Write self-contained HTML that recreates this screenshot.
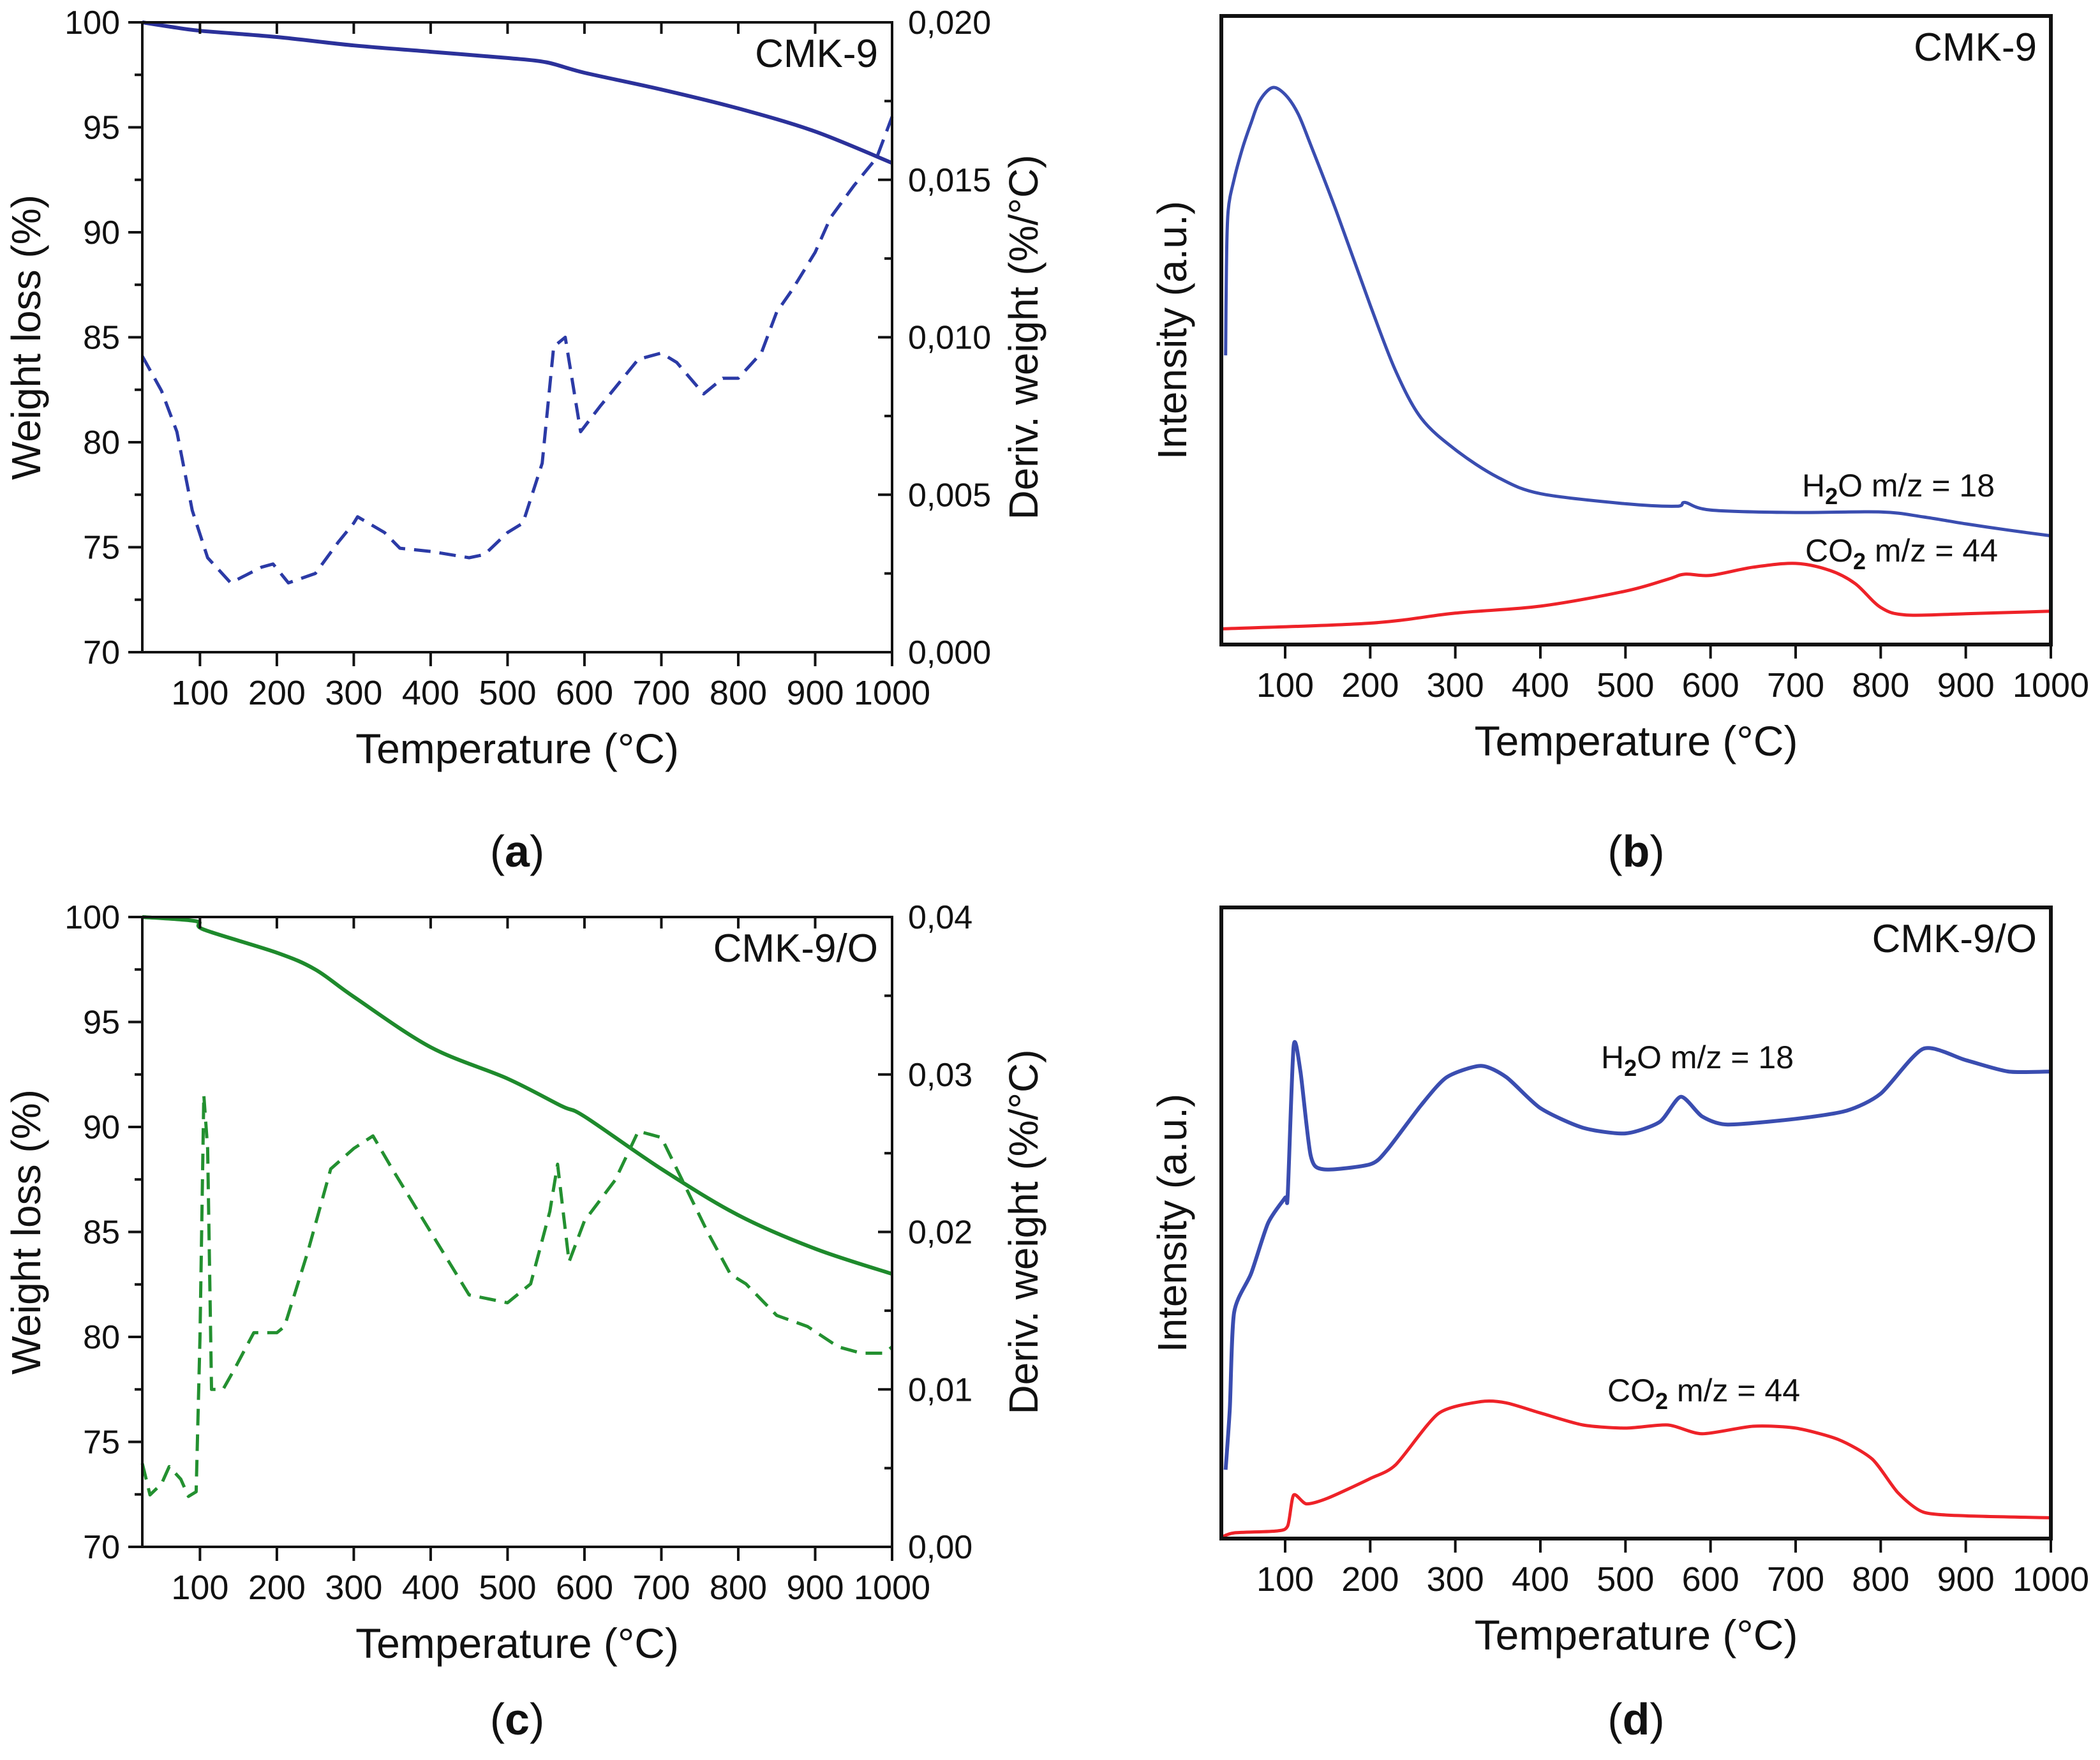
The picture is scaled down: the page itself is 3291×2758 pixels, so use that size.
<!DOCTYPE html>
<html><head><meta charset="utf-8">
<style>
html,body{margin:0;padding:0;background:#fff;}
svg{display:block;}
text{font-family:"Liberation Sans",sans-serif;fill:#111;}
</style></head>
<body>
<svg id="fig" width="3291" height="2758" viewBox="0 0 3291 2758" xmlns="http://www.w3.org/2000/svg"></svg>
<script>
// ---- Panel (a) CMK-9 TGA ----
const aWeightT = [25,60,100,200,300,400,500,550,600,700,800,900,1000];
const aWeight  = [100,99.8,99.6,99.3,98.9,98.6,98.3,98.1,97.6,96.8,95.9,94.8,93.3];
const aDerivT  = [25,50,70,90,110,140,180,195,215,250,280,300,305,340,360,400,450,470,500,520,545,560,575,595,620,670,700,720,755,780,800,830,850,870,900,920,950,980,1000];
const aDeriv   = [0.0094,0.0083,0.007,0.0045,0.003,0.0022,0.0027,0.0028,0.0022,0.0025,0.0035,0.0041,0.0043,0.0038,0.0033,0.0032,0.0030,0.0031,0.0038,0.0041,0.006,0.0097,0.0100,0.0070,0.0078,0.0093,0.0095,0.0092,0.0082,0.0087,0.0087,0.0095,0.0108,0.0115,0.0127,0.0138,0.0148,0.0157,0.0170];
const aLeftTicks  = ["70","75","80","85","90","95","100"];
const aRightTicks = ["0,000","0,005","0,010","0,015","0,020"];
// ---- Panel (c) CMK-9/O TGA ----
const cWeightT = [25,95,105,200,250,300,400,500,570,600,700,800,900,1000];
const cWeight  = [100,99.8,99.4,98.3,97.5,96.2,93.8,92.3,91.0,90.5,88.0,85.8,84.2,83.0];
const cDerivT  = [25,35,50,60,75,85,95,100,105,110,115,130,145,170,200,210,240,270,300,325,350,400,450,500,530,555,565,580,600,640,670,700,720,760,790,810,850,890,930,960,990,1000];
const cDeriv   = [0.0053,0.0033,0.004,0.0051,0.0043,0.0032,0.0035,0.0133,0.0287,0.0253,0.01,0.01,0.0113,0.0136,0.0136,0.014,0.0187,0.024,0.0253,0.0261,0.024,0.02,0.016,0.0155,0.0167,0.0213,0.0243,0.0181,0.0207,0.0233,0.0264,0.026,0.024,0.02,0.0173,0.0167,0.0147,0.014,0.0127,0.0123,0.0123,0.0127];
const cLeftTicks  = ["70","75","80","85","90","95","100"];
const cRightTicks = ["0,00","0,01","0,02","0,03","0,04"];
// ---- Panel (b) CMK-9 MS ----
const bH2OT = [30,31,33,40,50,60,70,85,100,115,130,160,200,230,260,300,350,400,500,560,570,600,700,800,850,900,950,1000];
const bH2O  = [46,60,69,74,79,83,86.5,88.6,87.5,84.5,79.5,69,54,43.5,36,31,26.6,24,22.4,22,22.6,21.4,21,21.1,20.3,19.2,18.2,17.3];
const bCO2T = [25,200,300,400,500,550,570,600,650,700,740,770,800,830,900,1000];
const bCO2  = [2.5,3.4,5,6.1,8.5,10.4,11.2,11,12.3,12.9,11.8,9.7,5.9,4.7,4.9,5.3];
// ---- Panel (d) CMK-9/O MS ----
const dH2OT = [30,35,40,60,80,100,103,110,118,130,145,200,220,260,290,330,360,400,450,500,540,565,590,620,700,760,800,850,900,950,1000];
const dH2O  = [10.9,20.6,35.8,42,50,54,54.4,78,74,60.7,58.5,59.3,61.6,68.7,73.1,74.9,73.1,68.2,65.1,64.2,66,70,66.9,65.6,66.5,67.8,70.5,77.6,75.8,74,74];
const dCO2T = [25,40,90,103,110,125,150,200,230,280,330,360,400,450,500,550,590,650,700,750,790,820,850,900,1000];
const dCO2  = [0.2,0.9,1.2,2,6.9,5.5,6.4,9.5,11.7,19.8,21.7,21.5,19.9,18,17.5,18,16.6,17.8,17.5,15.7,12.6,7.3,4.2,3.6,3.3];
const xTicks = ["100","200","300","400","500","600","700","800","900","1000"];

const NS="http://www.w3.org/2000/svg";
const svg=document.getElementById('fig');
function mk(tag,attrs,parent,txt){const e=document.createElementNS(NS,tag);for(const k in attrs)e.setAttribute(k,attrs[k]);if(txt!==undefined)e.textContent=txt;(parent||svg).appendChild(e);return e;}
function pathD(pts,smooth){
  if(!smooth){return pts.map((p,i)=>(i?'L':'M')+p[0].toFixed(1)+' '+p[1].toFixed(1)).join('');}
  let d='M'+pts[0][0].toFixed(1)+' '+pts[0][1].toFixed(1);
  for(let i=0;i<pts.length-1;i++){
    const p0=pts[Math.max(0,i-1)],p1=pts[i],p2=pts[i+1],p3=pts[Math.min(pts.length-1,i+2)];
    const k=smooth;
    const c1=[p1[0]+(p2[0]-p0[0])*k,p1[1]+(p2[1]-p0[1])*k];
    const c2=[p2[0]-(p3[0]-p1[0])*k,p2[1]-(p3[1]-p1[1])*k];
    d+='C'+c1[0].toFixed(1)+' '+c1[1].toFixed(1)+' '+c2[0].toFixed(1)+' '+c2[1].toFixed(1)+' '+p2[0].toFixed(1)+' '+p2[1].toFixed(1);
  }
  return d;
}

function panel(P){
  const g=mk('g',{});
  
  
  const sx=t=>P.L+(t-25)/(1000-25)*(P.R-P.L);
  const syL=v=>P.B-(v-P.ymin)/(P.ymax-P.ymin)*(P.B-P.T);
  const syR=v=>P.B-(v-P.rmin)/(P.rmax-P.rmin)*(P.B-P.T);
  P.series.forEach(s=>{
    const sy=s.axis==='r'?syR:syL;
    const pts=s.x.map((t,i)=>[sx(t),sy(s.y[i])]);
    const p=mk('path',{d:pathD(pts,s.smooth),fill:'none',stroke:s.color,'stroke-width':s.w||5,'stroke-linejoin':'round'},g);
    if(s.dash)p.setAttribute('stroke-dasharray',s.dash);
    
    
  });
  const fr=mk('rect',{x:P.L,y:P.T,width:P.R-P.L,height:P.B-P.T,fill:'none',stroke:'#111','stroke-width':P.fw||5},g);
  
  
  const xg=mk('g',{},g);
  
  
  xTicks.forEach(lbl=>{
    const x=sx(+lbl);
    mk('line',{x1:x,y1:P.B,x2:x,y2:P.B+22,stroke:'#111','stroke-width':4},xg);
    if(P.topTicks)mk('line',{x1:x,y1:P.T,x2:x,y2:P.T+18,stroke:'#111','stroke-width':4},xg);
    const t=mk('text',{x:x,y:P.B+82,'font-size':54,'text-anchor':'middle'},xg,lbl);
    
    
  });
  const xt=mk('text',{x:(P.L+P.R)/2,y:P.B+174,'font-size':66,'text-anchor':'middle'},g,'Temperature (°C)');
  
  
  if(P.leftTicks){
    const n=P.leftTicks.length;
    P.leftTicks.forEach((lbl,i)=>{
      const v=+lbl;const y=syL(v);
      mk('line',{x1:P.L-22,y1:y,x2:P.L,y2:y,stroke:'#111','stroke-width':4},g);
      if(i<n-1){const ym=syL(v+(P.ymax-P.ymin)/(n-1)/2);mk('line',{x1:P.L-12,y1:ym,x2:P.L,y2:ym,stroke:'#111','stroke-width':4},g);}
      const t=mk('text',{x:P.L-35,y:y+18,'font-size':52,'text-anchor':'end'},g,lbl);
      
      
    });
    const n2=P.rightTicks.length;
    P.rightTicks.forEach((lbl,i)=>{
      const v=+lbl.replace(',','.');const y=syR(v);
      mk('line',{x1:P.R-22,y1:y,x2:P.R,y2:y,stroke:'#111','stroke-width':4},g);
      if(i<n2-1){const ym=syR(v+(P.rmax-P.rmin)/(n2-1)/2);mk('line',{x1:P.R-12,y1:ym,x2:P.R,y2:ym,stroke:'#111','stroke-width':4},g);}
      const t=mk('text',{x:P.R+25,y:y+18,'font-size':52,'text-anchor':'start'},g,lbl);
      
      
    });
    const ly=(P.T+P.B)/2;
    const lt=mk('text',{x:0,y:0,'font-size':64,'text-anchor':'middle',transform:`translate(${P.L-160},${ly}) rotate(-90)`},g,'Weight loss (%)');
    
    
    const rt=mk('text',{x:0,y:0,'font-size':64,'text-anchor':'middle',transform:`translate(${P.R+228},${ly}) rotate(-90)`},g,'Deriv. weight (%/°C)');
    
    
  } else {
    const lt=mk('text',{x:0,y:0,'font-size':64,'text-anchor':'middle',transform:`translate(${P.L-55},${(P.T+P.B)/2}) rotate(-90)`},g,'Intensity (a.u.)');
    
    
  }
  const st=mk('text',{x:P.R-22,y:P.T+70,'font-size':62,'text-anchor':'end'},g,P.sample);
  
  
  (P.notes||[]).forEach(n=>{
    const t=mk('text',{x:n.x,y:n.y,'font-size':50,'text-anchor':'middle'},g);
    
    
    mk('tspan',{},t,n.a);
    mk('tspan',{'font-size':36,dy:12,'font-weight':'bold'},t,'2');
    mk('tspan',{dy:-12},t,n.b);
  });
  const pl=mk('text',{x:(P.L+P.R)/2,y:P.panelY,'font-size':70,'text-anchor':'middle','font-family':'Liberation Serif, serif'},g);
  
  
  mk('tspan',{},pl,'(');mk('tspan',{'font-weight':'bold'},pl,P.letter);mk('tspan',{},pl,')');
}

panel({name:'panel-a',L:223,R:1398,T:35,B:1022,ymin:70,ymax:100,rmin:0,rmax:0.02,topTicks:true,
  leftTicks:aLeftTicks,rightTicks:aRightTicks,sample:'CMK-9',letter:'a',panelY:1358,fw:4,
  series:[{name:'weight-curve',x:aWeightT,y:aWeight,color:'#2b319a',w:6,smooth:0.16},
          {name:'deriv-curve',x:aDerivT,y:aDeriv,axis:'r',color:'#2b3aa6',w:5,dash:'26 14'}]});
panel({name:'panel-c',L:223,R:1398,T:1437,B:2424,ymin:70,ymax:100,rmin:0,rmax:0.04,topTicks:true,
  leftTicks:cLeftTicks,rightTicks:cRightTicks,sample:'CMK-9/O',letter:'c',panelY:2718,fw:4,
  series:[{name:'weight-curve',x:cWeightT,y:cWeight,color:'#1e8a2c',w:6,smooth:0.16},
          {name:'deriv-curve',x:cDerivT,y:cDeriv,axis:'r',color:'#239030',w:5,dash:'26 14'}]});
panel({name:'panel-b',L:1914,R:3214,T:25,B:1010,ymin:0,ymax:100,sample:'CMK-9',letter:'b',panelY:1358,fw:6,
  notes:[{name:'h2o-label',x:2975,y:778,a:'H',b:'O m/z = 18'},{name:'co2-label',x:2980,y:880,a:'CO',b:' m/z = 44'}],
  series:[{name:'h2o-curve',x:bH2OT,y:bH2O,color:'#3a4db0',w:5,smooth:0.16},
          {name:'co2-curve',x:bCO2T,y:bCO2,color:'#ee2228',w:5,smooth:0.16}]});
panel({name:'panel-d',L:1914,R:3214,T:1422,B:2411,ymin:0,ymax:100,sample:'CMK-9/O',letter:'d',panelY:2718,fw:6,
  notes:[{name:'h2o-label',x:2660,y:1674,a:'H',b:'O m/z = 18'},{name:'co2-label',x:2670,y:2196,a:'CO',b:' m/z = 44'}],
  series:[{name:'h2o-curve',x:dH2OT,y:dH2O,color:'#3a4db0',w:6,smooth:0.12},
          {name:'co2-curve',x:dCO2T,y:dCO2,color:'#ee2228',w:5,smooth:0.12}]});
</script>
</body></html>
